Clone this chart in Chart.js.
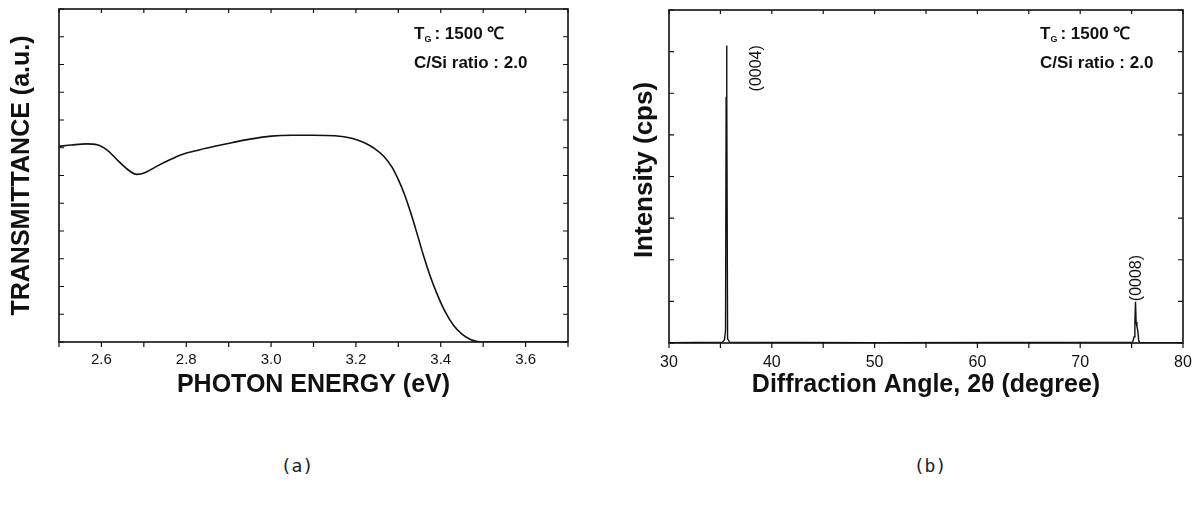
<!DOCTYPE html>
<html>
<head>
  <meta charset="utf-8">
  <title>Transmittance / XRD</title>
  <script src="https://cdn.jsdelivr.net/npm/chart.js"></script>
  <style>
    body { margin: 0; background: #fff; }
    #wrap { position: relative; width: 1202px; height: 515px; }
    .box { position: absolute; top: 0; height: 400px; }
    .cap { position: absolute; top: 455px; font: 18px "DejaVu Sans Mono", monospace; color: #222; transform: translateX(-50%); }
  </style>
</head>
<body>
<div id="wrap">
  <div class="box" style="left:0;width:600px"><canvas id="trans" width="600" height="400"></canvas></div>
  <div class="box" style="left:600px;width:602px"><canvas id="xrd" width="602" height="400"></canvas></div>
  <div class="cap" style="left:297px">(a)</div>
  <div class="cap" style="left:930px">(b)</div>
</div>

<script>
  // (a) transmittance vs photon energy
  const energy = [2.50, 2.53, 2.565, 2.59, 2.615, 2.64, 2.665, 2.683, 2.705, 2.73, 2.76, 2.79, 2.83, 2.87, 2.91, 2.95,
                  3.0, 3.05, 3.1, 3.15, 3.19, 3.22, 3.245, 3.265, 3.285, 3.30, 3.315, 3.33, 3.345, 3.36, 3.375,
                  3.39, 3.41, 3.43, 3.45, 3.47, 3.495, 3.55, 3.70];
  const transmittance = [7.05, 7.10, 7.14, 7.11, 6.90, 6.52, 6.18, 6.04, 6.12, 6.33, 6.56, 6.76, 6.92, 7.06, 7.19, 7.31,
                         7.42, 7.45, 7.45, 7.43, 7.34, 7.18, 6.96, 6.70, 6.30, 5.85, 5.30, 4.62, 3.86, 3.08, 2.38,
                         1.78, 1.10, 0.60, 0.28, 0.09, 0.0, 0.0, 0.0];
  const energyLabels = [2.6, 2.8, 3.0, 3.2, 3.4, 3.6];
  const energyTicks = [2.5, 2.6, 2.7, 2.8, 2.9, 3.0, 3.1, 3.2, 3.3, 3.4, 3.5, 3.6, 3.7];
  const transTicks = [0, 1, 2, 3, 4, 5, 6, 7, 8, 9, 10, 11, 12];

  // (b) XRD pattern
  const angle = [30, 35.2, 35.4, 35.5, 35.56, 35.6, 35.64, 35.7, 35.9, 50, 75.1, 75.25, 75.32, 75.38, 75.44, 75.52, 75.6, 75.7, 75.8, 80];
  const intensity = [0.01, 0.02, 0.08, 0.3, 5.9, 7.15, 5.9, 0.1, 0.02, 0.01, 0.02, 0.15, 0.5, 0.99, 0.5, 0.39, 0.3, 0.05, 0.01, 0.01];
  const angleLabels = [30, 40, 50, 60, 70, 80];
  const angleTicks = [30, 35, 40, 45, 50, 55, 60, 65, 70, 75, 80];
  const intensityTicks = [0, 1, 2, 3, 4, 5, 6, 7, 8];
  const peakNames = ["(0004)", "(0008)"];

  const ink = "#111";
  const sans = "'Liberation Sans', Arial, sans-serif";

  // box round the plot + inward/outward tick marks
  const framePlugin = {
    id: "frame",
    afterDraw(chart, args, opts) {
      const { ctx, chartArea: a, scales: { x, y } } = chart;
      ctx.save();
      ctx.strokeStyle = ink;
      ctx.lineWidth = 1.6;
      ctx.strokeRect(a.left, a.top, a.right - a.left, a.bottom - a.top);
      ctx.lineWidth = 1.2;
      ctx.beginPath();
      opts.xTicks.forEach(v => {
        const px = x.getPixelForValue(v);
        ctx.moveTo(px, a.bottom); ctx.lineTo(px, a.bottom + 5);
        ctx.moveTo(px, a.top); ctx.lineTo(px, a.top + 4);
      });
      opts.yTicks.forEach(v => {
        const py = y.getPixelForValue(v);
        ctx.moveTo(a.left, py); ctx.lineTo(a.left + 5, py);
        ctx.moveTo(a.right, py); ctx.lineTo(a.right - 5, py);
      });
      ctx.stroke();
      ctx.restore();
    }
  };

  // growth condition text and peak names
  const notesPlugin = {
    id: "notes",
    afterDraw(chart, args, opts) {
      const ctx = chart.ctx;
      ctx.save();
      ctx.fillStyle = ink;
      ctx.textBaseline = "alphabetic";
      ctx.textAlign = "left";
      let x = opts.x;
      ctx.font = "bold 17px " + sans;
      ctx.fillText("T", x, opts.y1);
      x += ctx.measureText("T").width;
      ctx.font = "bold 9px " + sans;
      ctx.fillText("G", x, opts.y1 + 3);
      x += ctx.measureText("G").width + 3;
      ctx.font = "bold 17px " + sans;
      ctx.fillText(": 1500 \u2103", x, opts.y1);
      ctx.fillText("C/Si ratio : 2.0", opts.x, opts.y2);

      (opts.peaks || []).forEach(p => {
        const px = chart.scales.x.getPixelForValue(p.x);
        const py = chart.scales.y.getPixelForValue(p.y);
        ctx.save();
        ctx.translate(px, py);
        ctx.rotate(-Math.PI / 2);
        ctx.font = "16px " + sans;
        ctx.textAlign = "center";
        ctx.textBaseline = "middle";
        ctx.fillText(p.text, 0, 0);
        ctx.restore();
      });
      ctx.restore();
    }
  };

  new Chart(document.getElementById("trans"), {
    type: "line",
    data: {
      datasets: [{
        data: energy.map((e, i) => ({ x: e, y: transmittance[i] })),
        borderColor: ink,
        borderWidth: 1.6,
        pointRadius: 0,
        cubicInterpolationMode: "monotone",
        fill: false
      }]
    },
    options: {
      responsive: false,
      animation: false,
      layout: { padding: { left: 0, top: 9, right: 32, bottom: 0 } },
      plugins: {
        legend: { display: false },
        tooltip: { enabled: false },
        frame: { xTicks: energyTicks, yTicks: transTicks },
        notes: { x: 414, y1: 39, y2: 68 }
      },
      scales: {
        x: {
          type: "linear", min: 2.5, max: 3.7,
          grid: { display: false, drawTicks: false },
          border: { display: false },
          afterBuildTicks: s => { s.ticks = energyLabels.map(v => ({ value: v })); },
          afterFit: s => { s.height = 58; },
          ticks: { padding: 9, color: ink, maxRotation: 0, autoSkip: false,
                   font: { family: sans, size: 15 }, callback: v => v.toFixed(1) },
          title: { display: true, text: "PHOTON ENERGY (eV)", color: ink,
                   font: { family: sans, size: 25, weight: "bold" }, padding: 0 }
        },
        y: {
          type: "linear", min: 0, max: 12,
          grid: { display: false, drawTicks: false },
          border: { display: false },
          ticks: { display: false },
          afterFit: s => { s.width = 59; },
          title: { display: true, text: "TRANSMITTANCE (a.u.)", color: ink,
                   font: { family: sans, size: 25, weight: "bold" }, padding: { top: 7, bottom: 0 } }
        }
      }
    },
    plugins: [framePlugin, notesPlugin]
  });

  new Chart(document.getElementById("xrd"), {
    type: "line",
    data: {
      datasets: [{
        data: angle.map((a, i) => ({ x: a, y: intensity[i] })),
        borderColor: ink,
        borderWidth: 1.4,
        pointRadius: 0,
        tension: 0,
        fill: false
      }]
    },
    options: {
      responsive: false,
      animation: false,
      layout: { padding: { left: 0, top: 10, right: 19, bottom: 0 } },
      plugins: {
        legend: { display: false },
        tooltip: { enabled: false },
        frame: { xTicks: angleTicks, yTicks: intensityTicks },
        notes: {
          x: 440, y1: 39, y2: 68,
          peaks: [{ text: peakNames[0], x: 38.5, y: 6.6 }, { text: peakNames[1], x: 75.5, y: 1.56 }]
        }
      },
      scales: {
        x: {
          type: "linear", min: 30, max: 80,
          grid: { display: false, drawTicks: false },
          border: { display: false },
          afterBuildTicks: s => { s.ticks = angleLabels.map(v => ({ value: v })); },
          afterFit: s => { s.height = 57; },
          ticks: { padding: 10, color: ink, maxRotation: 0, autoSkip: false,
                   font: { family: sans, size: 16 } },
          title: { display: true, text: "Diffraction Angle, 2\u03b8 (degree)", color: ink,
                   font: { family: sans, size: 25, weight: "bold" }, padding: 0 }
        },
        y: {
          type: "linear", min: 0, max: 8,
          grid: { display: false, drawTicks: false },
          border: { display: false },
          ticks: { display: false },
          afterFit: s => { s.width = 69; },
          title: { display: true, text: "\u2002Intensity (cps)", color: ink,
                   font: { family: sans, size: 26, weight: "bold" }, padding: { top: 29, bottom: 0 } }
        }
      }
    },
    plugins: [framePlugin, notesPlugin]
  });
</script>
</body>
</html>
